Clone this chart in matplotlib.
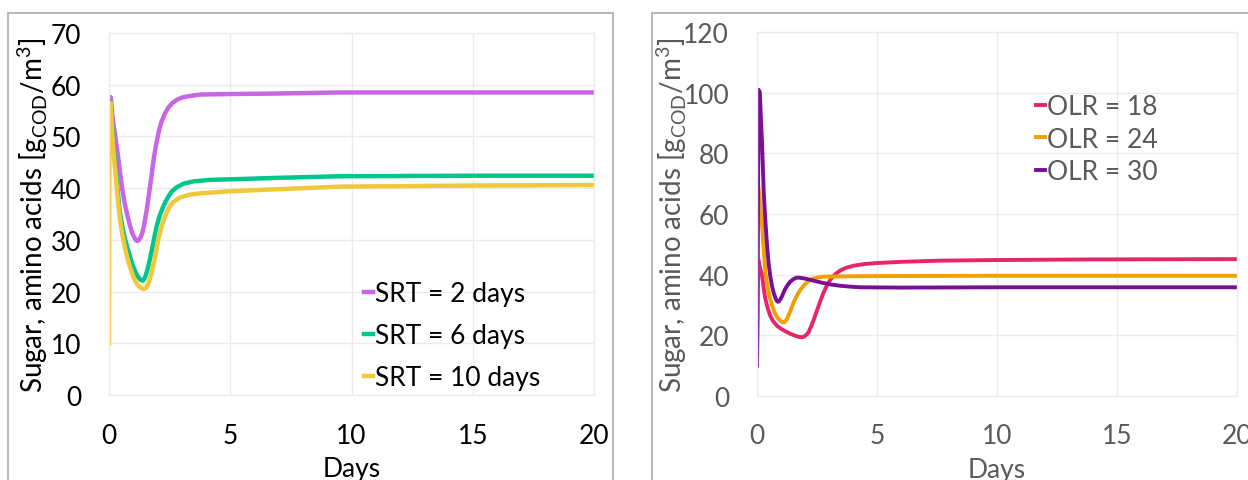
import matplotlib
matplotlib.use("Agg")
import matplotlib.pyplot as plt
from matplotlib.patches import Rectangle

plt.rcParams['font.family'] = ['Lato', 'DejaVu Sans']
plt.rcParams['mathtext.fontset'] = 'custom'
plt.rcParams['mathtext.rm'] = 'Lato'

# ---------------- Left panel: SRT ----------------
srt_labels = ["SRT = 2 days", "SRT = 6 days", "SRT = 10 days"]
srt_colors = ["#C966E6", "#00C68C", "#F0C83C"]

srt2_t = [0.0, 0.07, 0.15, 0.25, 0.35, 0.45, 0.55, 0.65, 0.75, 0.85, 0.95, 1.05, 1.12, 1.17, 1.22, 1.30,
          1.38, 1.46, 1.55, 1.65, 1.75, 1.85, 1.95, 2.05, 2.15, 2.3, 2.45, 2.6, 2.8, 3.0, 3.3, 3.76, 5.0,
          7.0, 9.55, 15.0, 20.0]
srt2_v = [57.6, 57.6, 53.5, 50.3, 47.0, 43.2, 39.7, 37.0, 34.9, 33.0, 31.4, 30.4, 29.9, 29.8, 29.9, 30.5,
          31.4, 33.2, 35.6, 38.9, 42.3, 45.9, 48.6, 50.9, 52.6, 54.4, 55.6, 56.4, 57.1, 57.5, 57.8, 58.1, 58.2,
          58.3, 58.5, 58.5, 58.5]

srt6_t = [0.0, 0.07, 0.12, 0.18, 0.25, 0.35, 0.45, 0.55, 0.65, 0.75, 0.85, 1.0, 1.1, 1.2, 1.3, 1.38, 1.45,
          1.52, 1.6, 1.69, 1.8, 1.9, 1.97, 2.1, 2.2, 2.31, 2.45, 2.6, 2.8, 3.1, 3.48, 4.17, 5.0, 7.0, 9.55,
          15.0, 20.0]
srt6_v = [56.6, 56.6, 52.5, 48.5, 45.0, 39.8, 35.3, 32.5, 30.3, 28.6, 27.0, 24.8, 23.7, 22.8, 22.3, 22.1, 22.4,
          23.2, 24.5, 26.3, 28.8, 31.2, 32.7, 34.8, 36.0, 37.2, 38.4, 39.4, 40.2, 40.9, 41.3, 41.6, 41.7, 42.0, 42.3,
          42.4, 42.4]

srt10_t = [0.0, 0.02, 0.07, 0.12, 0.18, 0.25, 0.35, 0.45, 0.55, 0.65, 0.75, 0.85, 1.0, 1.1, 1.2, 1.3, 1.4,
           1.46, 1.52, 1.6, 1.68, 1.76, 1.85, 1.95, 2.04, 2.15, 2.25, 2.38, 2.5, 2.65, 2.8, 2.93, 3.3, 3.76,
           5.0, 7.0, 9.55, 15.0, 20.0]
srt10_v = [10.0, 56.0, 56.4, 51.5, 47.3, 43.7, 38.5, 34.0, 31.0, 28.6, 26.6, 25.0, 22.9, 21.9, 21.2, 20.8, 20.5,
           20.5, 20.7, 21.3, 22.3, 23.7, 25.6, 28.0, 30.2, 32.2, 33.8, 35.3, 36.4, 37.3, 37.8, 38.2, 38.7, 39.0,
           39.4, 39.8, 40.3, 40.5, 40.6]

# ---------------- Right panel: OLR ----------------
olr_labels = ["OLR = 18", "OLR = 24", "OLR = 30"]
olr_colors = ["#E8246A", "#F0A000", "#7A0E96"]

olr18_t = [0.0, 0.05, 0.12, 0.21, 0.28, 0.35, 0.45, 0.55, 0.68, 0.83, 1.0, 1.2, 1.4, 1.6, 1.75, 1.88, 1.98,
           2.07, 2.15, 2.25, 2.35, 2.42, 2.55, 2.67, 2.77, 2.9, 3.0, 3.12, 3.3, 3.46, 3.7, 4.01, 4.5, 5.0, 6.0,
           7.62, 10.0, 14.0, 20.0]
olr18_v = [10.0, 45.1, 42.5, 39.6, 35.5, 31.9, 28.8, 26.4, 24.5, 23.1, 22.1, 21.2, 20.4, 19.8, 19.4, 19.3, 19.6,
           20.2, 21.0, 22.8, 24.8, 26.4, 29.3, 31.9, 34.0, 36.2, 37.6, 39.0, 40.4, 41.3, 42.2, 42.9, 43.5, 43.8, 44.2,
           44.6, 44.8, 45.0, 45.1]

olr24_t = [0.0, 0.05, 0.1, 0.15, 0.21, 0.28, 0.35, 0.45, 0.55, 0.65, 0.76, 0.87, 0.97, 1.05, 1.1, 1.16, 1.23,
           1.31, 1.4, 1.5, 1.59, 1.7, 1.82, 1.94, 2.1, 2.28, 2.5, 2.77, 3.46, 5.0, 10.0, 20.0]
olr24_v = [10.0, 69.3, 66.0, 61.5, 56.1, 48.0, 40.7, 35.5, 31.9, 29.3, 27.0, 25.6, 24.8, 24.3, 24.2, 24.4, 25.1,
           26.4, 28.2, 30.3, 31.9, 33.6, 35.1, 36.3, 37.6, 38.5, 39.0, 39.3, 39.4, 39.5, 39.6, 39.6]

olr30_t = [0.0, 0.07, 0.12, 0.16, 0.21, 0.28, 0.35, 0.42, 0.48, 0.55, 0.62, 0.69, 0.76, 0.82, 0.87, 0.92, 0.98,
           1.05, 1.12, 1.2, 1.3, 1.38, 1.5, 1.62, 1.73, 1.9, 2.05, 2.21, 2.5, 2.77, 3.1, 3.46, 3.9, 4.29, 6.0,
           10.0, 20.0]
olr30_v = [10.0, 101.0, 100.0, 92.0, 83.6, 67.1, 57.5, 49.5, 44.0, 39.6, 36.4, 34.1, 32.4, 31.4, 31.0, 31.2, 31.9,
           33.0, 34.3, 35.6, 36.8, 37.6, 38.4, 38.9, 39.0, 38.8, 38.6, 38.3, 37.7, 37.2, 36.7, 36.3, 36.0, 35.8, 35.7,
           35.8, 35.8]

x_ticks = [0, 5, 10, 15, 20]
left_yticks = [0, 10, 20, 30, 40, 50, 60, 70]
right_yticks = [0, 20, 40, 60, 80, 100, 120]

W, H = 1248, 481
fig = plt.figure(figsize=(W / 100, H / 100), dpi=100)
fig.patch.set_facecolor("white")

def px(x0, y0, x1, y1):
    return [x0 / W, 1 - y1 / H, (x1 - x0) / W, (y1 - y0) / H]

# panel frames
for (fx0, fx1) in [(8, 613), (652, 1270)]:
    fig.patches.append(Rectangle((fx0 / W, -0.1), (fx1 - fx0) / W, 1.1 - 14 / H,
                                 transform=fig.transFigure, fill=False,
                                 edgecolor="#ABABAB", linewidth=1.2, clip_on=False))

FS = 19
grid_c = "#EBEBEB"

def style(ax, ymax, yticks, tcolor):
    ax.set_xlim(0, 20)
    ax.set_ylim(0, ymax)
    ax.set_xticks(x_ticks)
    ax.set_yticks(yticks)
    ax.grid(True, color=grid_c, linewidth=1.0)
    ax.set_axisbelow(True)
    for s in ax.spines.values():
        s.set_color(grid_c)
        s.set_linewidth(1.0)
    ax.tick_params(length=0, labelsize=FS, colors=tcolor)
    ax.tick_params(axis='x', pad=20)
    ax.tick_params(axis='y', pad=20)
    ax.set_xlabel("Days", fontsize=FS, color=tcolor, labelpad=6)

# Left axes
axL = fig.add_axes(px(109, 34, 594, 396))
for t, v, c, lab in zip([srt2_t, srt6_t, srt10_t], [srt2_v, srt6_v, srt10_v], srt_colors, srt_labels):
    axL.plot(t, v, color=c, linewidth=3.2, label=lab, solid_joinstyle='round')
style(axL, 70, left_yticks, "black")
legL = axL.legend(loc="upper left", bbox_to_anchor=(364 / W, 1 - 282 / H),
                  bbox_transform=fig.transFigure, frameon=False, fontsize=FS,
                  handlelength=0.35, handletextpad=0.05, borderpad=0,
                  borderaxespad=0, labelspacing=0.64)
for txt in legL.get_texts():
    txt.set_color("black")

# Right axes
axR = fig.add_axes(px(757, 33.3, 1237, 396.7))
for t, v, c, lab in zip([olr18_t, olr24_t, olr30_t], [olr18_v, olr24_v, olr30_v], olr_colors, olr_labels):
    axR.plot(t, v, color=c, linewidth=2.8, label=lab, solid_joinstyle='round')
style(axR, 120, right_yticks, "#595959")
legR = axR.legend(loc="upper left", bbox_to_anchor=(1036 / W, 1 - 95 / H),
                  bbox_transform=fig.transFigure, frameon=False, fontsize=FS,
                  handlelength=0.35, handletextpad=0.05, borderpad=0,
                  borderaxespad=0, labelspacing=0.29)
for txt in legR.get_texts():
    txt.set_color("#595959")

ylab = r"Sugar, amino acids [g$_{\mathregular{COD}}$/m$^{\mathregular{3}}$]"
fig.text(33 / W, 1 - 215 / H, ylab, rotation=90, ha="center", va="center",
         fontsize=20, color="black")
fig.text(672 / W, 1 - 215 / H, ylab, rotation=90, ha="center", va="center",
         fontsize=20, color="#595959")

fig.savefig("out.png", dpi=100)
